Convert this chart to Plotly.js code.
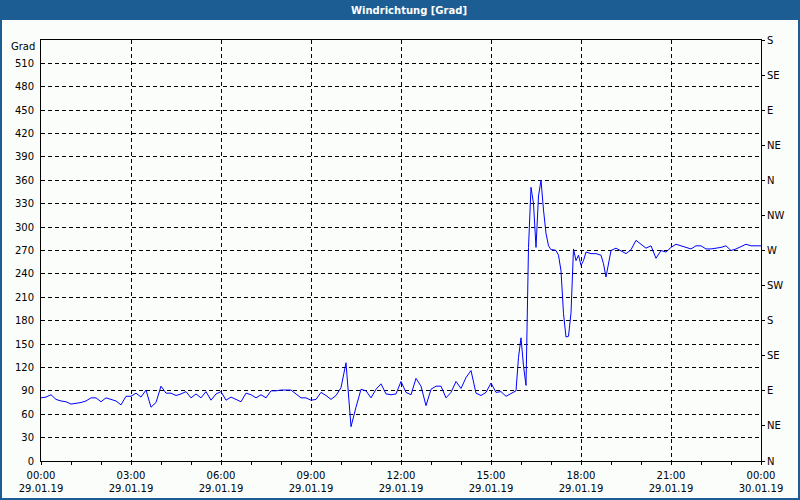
<!DOCTYPE html>
<html>
<head>
<meta charset="utf-8">
<script src="https://cdn.plot.ly/plotly-3.0.1.min.js"></script>
<style>html,body{margin:0;padding:0;background:#fbfdfb;}#chart{width:800px;height:500px;}</style>
</head>
<body>
<div id="chart"></div>
<script>
// ---- data (minutes after 29.01.19 00:00, wind direction in degrees) ----
var minutes = [
  0,10,20,30,40,50,60,70,80,90,
  100,110,120,130,140,150,160,170,180,190,
  200,210,220,230,240,250,260,270,280,290,
  300,310,320,330,340,350,360,370,380,390,
  400,410,420,430,440,450,460,470,480,490,
  500,510,520,530,540,550,560,570,580,590,
  600,610,620,630,640,650,660,670,680,690,
  700,710,720,730,740,750,760,770,780,790,
  800,810,820,830,840,850,860,870,880,890,
  900,910,920,930,940,
  945,950,955,960,965,970,975,980,985,990,
  995,1000,1005,1010,1015,1020,1025,1030,1035,1040,
  1045,1050,1055,1060,1065,1070,1075,1080,1085,1090,
  1100,1110,1120,1125,1130,1135,1140,1150,1160,1170,
  1180,1190,1200,1210,1220,1230,1240,1250,1260,1270,
  1280,1290,1300,1310,1320,1330,1340,1350,1360,1370,
  1380,1390,1400,1410,1420,1430,1440
];
var direction = [
  81,82,85,79,77,76,73,74,75,77,
  81,81,76,81,79,77,72,83,83,87,
  82,91,69,75,96,87,87,84,86,89,
  81,86,81,89,78,86,89,78,82,79,
  76,87,85,81,85,81,90,90,91,91,
  91,86,81,81,78,79,88,84,79,84,
  94,126,44,69,92,90,81,92,99,86,
  85,86,102,88,85,106,96,71,92,96,
  96,81,88,102,93,107,116,87,84,88,
  100,88,89,83,87,
  88,90,133,158,122,97,274,351,330,274,
  340,360,322,292,276,271,271,270,264,244,
  189,159,160,190,272,257,264,251,257,268,
  266,266,264,253,236,255,270,273,270,266,
  271,283,278,273,276,260,270,268,274,278,
  276,274,272,276,276,272,272,273,274,276,
  270,272,275,278,276,276,276
];
var xTickHours = [0,3,6,9,12,15,18,21,24];
var xTickTimes = ['00:00','03:00','06:00','09:00','12:00','15:00','18:00','21:00','00:00'];
var xTickDates = ['29.01.19','29.01.19','29.01.19','29.01.19','29.01.19','29.01.19','29.01.19','29.01.19','30.01.19'];
var degTicks = [0,30,60,90,120,150,180,210,240,270,300,330,360,390,420,450,480,510];
var compassTicks = [0,45,90,135,180,225,270,315,360,405,450,495,540];
var compassLabels = ['N','NE','E','SE','S','SW','W','NW','N','NE','E','SE','S'];
var titleText = 'Windrichtung [Grad]';
var unitText = 'Grad';

// ---- helpers ----
function pad(n){return (n<10?'0':'')+n;}
function minToDate(m){
  var day = m >= 1440 ? 30 : 29;
  var mm = m % 1440;
  return '2019-01-' + day + ' ' + pad(Math.floor(mm/60)) + ':' + pad(mm%60);
}
var xs = minutes.map(minToDate);
var tickvals = xTickHours.map(function(h){return minToDate(h*60);});
var ticktext = xTickTimes.map(function(t,i){return t + '<br>' + xTickDates[i];});

var W = 800, H = 500, ML = 41, MR = 39, MT = 40, MB = 39;
var PW = W - ML - MR, PH = H - MT - MB;
function px(x){return (x - ML) / PW;}
function py(y){return (H - MB - y) / PH;}
var BLUE = '#1c5e93', BG = '#fbfdfb';
var FONT = 'DejaVu Sans';

var traces = [
  {x: xs, y: direction, type: 'scatter', mode: 'lines',
   line: {color: '#0000ff', width: 1}, hoverinfo: 'x+y', showlegend: false},
  {x: [xs[0]], y: [0], yaxis: 'y2', type: 'scatter', mode: 'markers',
   marker: {opacity: 0}, hoverinfo: 'skip', showlegend: false}
];

var layout = {
  width: W, height: H,
  margin: {l: ML, r: MR, t: MT, b: MB, pad: 0},
  paper_bgcolor: BG, plot_bgcolor: BG,
  font: {family: FONT, size: 10, color: '#000000'},
  title: {text: titleText, x: 409/800, xanchor: 'center', xref: 'container',
          y: 1 - 10/500, yanchor: 'middle', yref: 'container',
          font: {family: FONT, size: 10, color: '#ffffff', weight: 'bold'}},
  xaxis: {
    type: 'date', range: [minToDate(0), minToDate(1440)],
    tickmode: 'array', tickvals: tickvals, ticktext: ticktext,
    ticks: 'outside', ticklen: 3, tickcolor: '#000', tickwidth: 1,
    ticklabelstandoff: 2,
    minor: {tickmode: 'linear', tick0: minToDate(0), dtick: 3600000,
            ticks: 'outside', ticklen: 3, tickcolor: '#000', showgrid: false},
    showgrid: true, gridcolor: '#000000', gridwidth: 1, griddash: '4px,3px',
    showline: true, linecolor: '#000000', linewidth: 1, mirror: true,
    zeroline: false, fixedrange: true,
    tickfont: {family: FONT, size: 10, color: '#000'}
  },
  yaxis: {
    range: [0, 540], tickmode: 'array', tickvals: degTicks,
    ticks: '', ticklabelstandoff: 4,
    showgrid: true, gridcolor: '#000000', gridwidth: 1, griddash: '4px,3px',
    showline: true, linecolor: '#000000', linewidth: 1, mirror: true,
    zeroline: false, fixedrange: true,
    tickfont: {family: FONT, size: 10, color: '#000'}
  },
  yaxis2: {
    overlaying: 'y', side: 'right', range: [0, 540],
    tickmode: 'array', tickvals: compassTicks, ticktext: compassLabels,
    ticks: 'outside', ticklen: 3, tickcolor: '#000',
    showgrid: false, zeroline: false, showline: false, fixedrange: true,
    tickfont: {family: FONT, size: 10, color: '#000'}
  },
  annotations: [
    {text: unitText, xref: 'paper', yref: 'paper', x: px(37), y: py(46),
     xanchor: 'right', yanchor: 'middle', showarrow: false,
     font: {family: FONT, size: 10, color: '#000'}}
  ],
  shapes: [
    {type: 'rect', xref: 'paper', yref: 'paper', x0: px(0), x1: px(800), y0: py(20), y1: py(0),
     fillcolor: BLUE, line: {width: 0}, layer: 'below'},
    {type: 'rect', xref: 'paper', yref: 'paper', x0: px(0), x1: px(2), y0: py(500), y1: py(0),
     fillcolor: BLUE, line: {width: 0}},
    {type: 'rect', xref: 'paper', yref: 'paper', x0: px(798), x1: px(800), y0: py(500), y1: py(0),
     fillcolor: BLUE, line: {width: 0}},
    {type: 'rect', xref: 'paper', yref: 'paper', x0: px(0), x1: px(800), y0: py(500), y1: py(498),
     fillcolor: BLUE, line: {width: 0}}
  ],
  hovermode: 'closest'
};

Plotly.newPlot('chart', traces, layout, {displayModeBar: false, staticPlot: false});
</script>
</body>
</html>
